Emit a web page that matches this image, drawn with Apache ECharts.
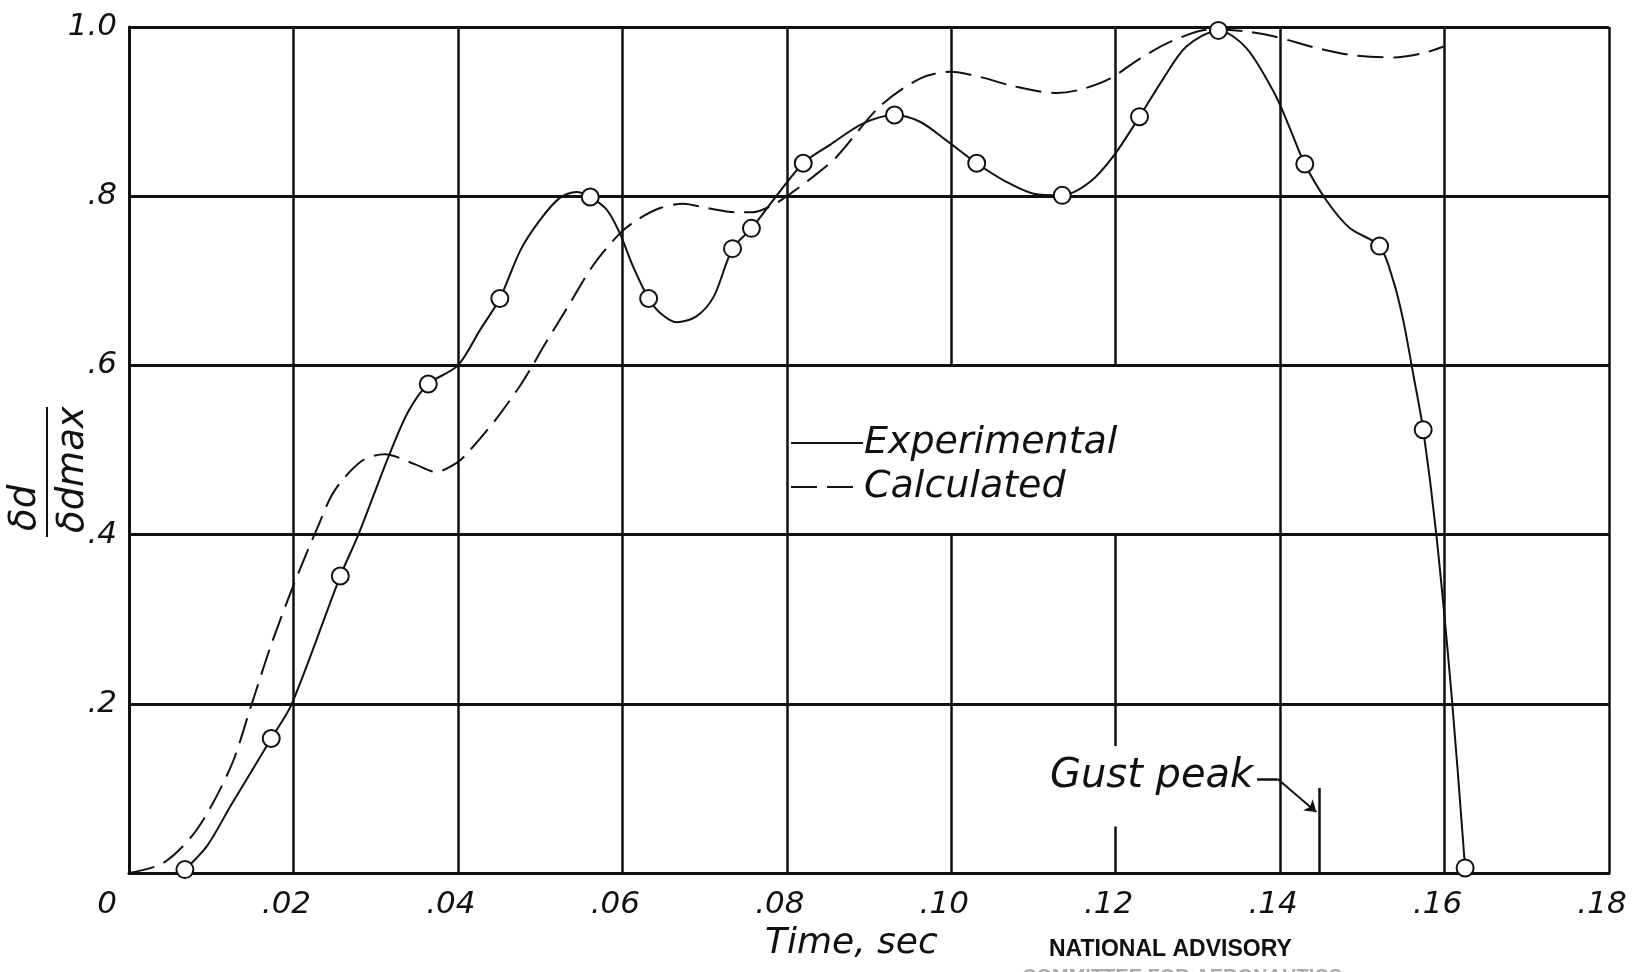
<!DOCTYPE html>
<html lang="en">

<head>
    <meta charset="UTF-8">
    <title>Gust response - experimental vs calculated</title>
    <style>
        html, body { margin: 0; padding: 0; background: #fff; }
        #main { width: 1637px; height: 972px; }
    </style>
    <script src="https://cdn.jsdelivr.net/npm/echarts@6/dist/echarts.min.js"></script>
</head>

<body>
    <div id="main"></div>

    <script>
        // circles on the experimental curve (time, sec / dd/ddmax)
        const expPointT = [.0068, .0173, .0257, .0364, .0451, .0561, .0632, .0734, .0757, .0820,
            .0931, .1031, .1135, .1229, .1325, .1430, .1521, .1574, .1625];
        const expPointV = [.004, .159, .351, .578, .679, .799, .679, .738, .762, .839,
            .896, .839, .801, .894, .996, .838, .741, .524, .006];

        // faired experimental curve
        const expCurveT = [.0068, .0095, .0124, .0173, .0198, .0257, .0279, .0316, .0340, .0364,
            .0400, .0427, .0451, .0476, .0500, .0524, .0544, .0561, .0581, .0597,
            .0613, .0632, .0646, .0666, .0690, .0711, .0734, .0757, .0784, .0820,
            .0853, .0893, .0931, .0962, .0994, .1031, .1067, .1100, .1135, .1169,
            .1197, .1229, .1258, .1286, .1325, .1359, .1394, .1412, .1430, .1457,
            .1485, .1521, .1538, .1550, .1562, .1574, .1590, .1609, .1625];
        const expCurveV = [.004, .032, .080, .159, .200, .351, .400, .493, .546, .578,
            .600, .642, .679, .736, .772, .798, .805, .799, .784, .756,
            .717, .679, .662, .651, .658, .681, .738, .762, .796, .839,
            .861, .886, .896, .888, .866, .839, .817, .803, .801, .817,
            .847, .894, .939, .977, .996, .975, .920, .880, .838, .794,
            .762, .741, .699, .652, .589, .524, .400, .205, .006];

        // calculated curve (dashed)
        const calcCurveT = [0, .0042, .0083, .0124, .0148, .0173, .0200, .0230, .0250, .0283,
            .0311, .0348, .0373, .0399, .0414, .0446, .0475, .0491, .0504, .0536,
            .0565, .0597, .0618, .0646, .0674, .0703, .0739, .0759, .0780, .0797,
            .0832, .0861, .0913, .0962, .0999, .1035, .1076, .1128, .1157, .1193,
            .1230, .1270, .1315, .1356, .1392, .1445, .1485, .1538, .1574, .1599];
        const calcCurveV = [0, .012, .052, .126, .196, .270, .340, .410, .452, .487,
            .495, .483, .474, .485, .499, .536, .575, .600, .622, .673,
            .719, .756, .772, .786, .791, .786, .781, .781, .788, .798,
            .823, .847, .906, .939, .947, .941, .930, .922, .926, .939,
            .963, .984, .997, .995, .989, .975, .967, .964, .969, .977];

        const xTicks = [0, .02, .04, .06, .08, .10, .12, .14, .16, .18];
        const yTicks = [0, .2, .4, .6, .8, 1.0];

        const gustPeakT = .1447;

        const zip = (a, b) => a.map((v, i) => [v, b[i]]);

        // vertical grid lines are drawn as segments, some of them are broken in the drawing
        const vGridBreaks = { '0.1': [[0, .4], [.6, 1]], '0.12': [[0, .055], [.15, .4], [.6, 1]] };
        const vGrid = [];
        xTicks.slice(1).forEach(function (t) {
            const spans = vGridBreaks[String(t)] || [[0, 1]];
            spans.forEach(function (s) {
                vGrid.push([{ coord: [t, s[0]] }, { coord: [t, s[1]] }]);
            });
        });

        const ink = '#111';
        const hand = 'DejaVu Sans';

        var myChart = echarts.init(document.getElementById('main'));

        option = {
            backgroundColor: '#fff',
            animation: false,
            grid: { left: 129, right: 28, top: 27, bottom: 99, containLabel: false },
            legend: {
                orient: 'vertical',
                left: 785,
                top: 419,
                itemWidth: 72,
                itemHeight: 14,
                itemGap: 6,
                itemStyle: { opacity: 0 },
                data: ['Experimental', 'Calculated'],
                textStyle: { fontFamily: hand, fontStyle: 'italic', fontSize: 38, color: ink, padding: [0, 0, 0, -4] }
            },
            xAxis: {
                type: 'value',
                min: 0,
                max: .18,
                interval: .02,
                axisLine: { show: true, lineStyle: { color: ink, width: 3 } },
                axisTick: { show: false },
                splitLine: { show: false },
                axisLabel: {
                    margin: 16,
                    color: ink,
                    fontFamily: hand,
                    fontStyle: 'italic',
                    fontSize: 31,
                    padding: [0, 14, 0, 0],
                    formatter: function (v) {
                        if (v === 0) return '{z|0}';
                        return '.' + String(Math.round(v * 100)).padStart(2, '0');
                    },
                    rich: { z: { fontFamily: hand, fontStyle: 'italic', fontSize: 31, color: ink, padding: [0, 30, 0, 0] } }
                }
            },
            yAxis: {
                type: 'value',
                min: 0,
                max: 1,
                interval: .2,
                axisLine: { show: true, lineStyle: { color: ink, width: 3 } },
                axisTick: { show: false },
                splitLine: { show: true, lineStyle: { color: ink, width: 3 } },
                axisLabel: {
                    margin: 12,
                    color: ink,
                    fontFamily: hand,
                    fontStyle: 'italic',
                    fontSize: 31,
                    padding: [0, 0, 10, 0],
                    formatter: function (v) {
                        if (v === 0) return '';
                        if (v === 1) return '1.0';
                        return '.' + Math.round(v * 10);
                    }
                }
            },
            series: [
                {
                    name: 'Experimental',
                    type: 'line',
                    data: zip(expCurveT, expCurveV),
                    smooth: 0.3,
                    showSymbol: false,
                    symbol: 'none',
                    lineStyle: { color: ink, width: 2 },
                    itemStyle: { color: ink },
                    z: 3,
                    markLine: {
                        silent: true,
                        symbol: 'none',
                        label: { show: false },
                        lineStyle: { color: ink, width: 2.5, type: 'solid' },
                        data: vGrid.concat([
                            [{ coord: [gustPeakT, 0] }, { coord: [gustPeakT, .1005] }],
                            [{ coord: [.1372, .111] }, { coord: [.1397, .111] }]
                        ])
                    }
                },
                {
                    name: 'Calculated',
                    type: 'line',
                    data: zip(calcCurveT, calcCurveV),
                    smooth: 0.3,
                    showSymbol: false,
                    symbol: 'none',
                    lineStyle: { color: ink, width: 2, type: [26, 10] },
                    itemStyle: { color: ink },
                    z: 3,
                    markLine: {
                        silent: true,
                        symbol: ['none', 'arrow'],
                        symbolSize: 11,
                        label: { show: false },
                        lineStyle: { color: ink, width: 2, type: 'solid' },
                        data: [[{ coord: [.1397, .111] }, { coord: [gustPeakT - .0003, .072] }]]
                    }
                },
                {
                    name: 'points',
                    type: 'scatter',
                    data: zip(expPointT, expPointV),
                    symbol: 'circle',
                    symbolSize: 17,
                    itemStyle: { color: '#fff', opacity: 1, borderColor: ink, borderWidth: 2 },
                    z: 5
                }
            ],
            graphic: [
                {
                    // dd / dd max, written sideways
                    type: 'group',
                    x: 47,
                    y: 537,
                    rotation: Math.PI / 2,
                    children: [
                        { type: 'line', shape: { x1: 0, y1: 0, x2: 130, y2: 0 }, style: { stroke: ink, lineWidth: 2 } },
                        {
                            type: 'text', x: 6, y: -3,
                            style: { text: 'δd', fill: ink, fontFamily: hand, fontStyle: 'italic', fontSize: 37, align: 'left', verticalAlign: 'bottom' }
                        },
                        {
                            type: 'text', x: 4, y: 8,
                            style: { text: 'δdmax', fill: ink, fontFamily: hand, fontStyle: 'italic', fontSize: 37, align: 'left', verticalAlign: 'top' }
                        }
                    ]
                },
                {
                    type: 'text', left: 765, top: 926,
                    style: { text: 'Time, sec', fill: ink, fontFamily: hand, fontStyle: 'italic', fontSize: 36 }
                },
                {
                    type: 'text', left: 1050, top: 757,
                    style: { text: 'Gust peak', fill: ink, fontFamily: hand, fontStyle: 'italic', fontSize: 40 }
                },
                {
                    type: 'text', left: 1049, top: 938,
                    style: { text: 'NATIONAL ADVISORY', fill: ink, fontFamily: 'Liberation Sans', fontWeight: 'bold', fontSize: 23 }
                },
                {
                    type: 'text', left: 1022, top: 967,
                    style: { text: 'COMMITTEE FOR AERONAUTICS', fill: '#aaa', fontFamily: 'Liberation Sans', fontWeight: 'bold', fontSize: 20 }
                }
            ]
        };

        myChart.setOption(option);
    </script>
</body>

</html>
